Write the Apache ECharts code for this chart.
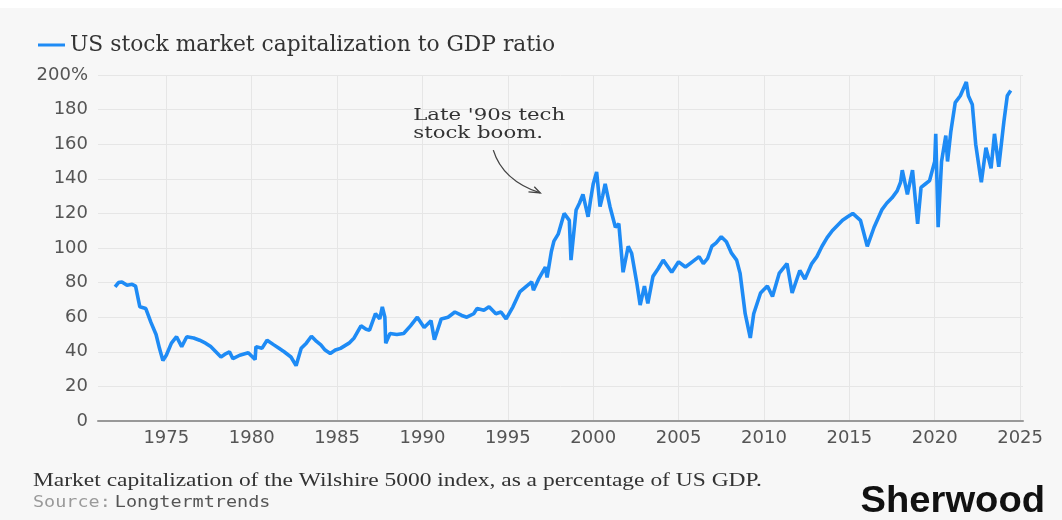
<!DOCTYPE html>
<html><head><meta charset="utf-8">
<script src="https://cdn.jsdelivr.net/npm/echarts@6/dist/echarts.min.js"></script>
<style>html,body{margin:0;padding:0;background:#fff}#c{width:1062px;height:520px}</style>
</head><body><div id="c"></div><script>
const seriesName = 'US stock market capitalization to GDP ratio';
const xTickYears = [1975, 1980, 1985, 1990, 1995, 2000, 2005, 2010, 2015, 2020, 2025];
const yMax = 200;
const yStep = 20;
const footnote = 'Market capitalization of the Wilshire 5000 index, as a percentage of US GDP.';
const sourceLabel = 'Source:';
const sourceName = 'Longtermtrends';
const brand = 'Sherwood';
const annotationText = "Late '90s tech\nstock boom.";

// [year, % of GDP]
const ratio1970s = [[1972.0,77.5],[1972.2,80],[1972.4,80.4],[1972.7,78.5],[1973.0,79],[1973.2,78],[1973.45,66],[1973.8,65],[1974.1,57],[1974.4,50],[1974.6,42],[1974.8,35],[1975.0,38],[1975.3,45],[1975.6,48.7],[1975.9,43],[1976.2,48.7],[1976.6,48],[1976.95,46.7],[1977.3,45],[1977.6,43],[1977.9,40],[1978.2,37],[1978.5,39],[1978.7,40],[1978.9,36],[1979.3,38],[1979.8,39.4]];
const ratio1980s = [[1980.2,35.5],[1980.25,43],[1980.6,42],[1980.9,46.7],[1981.3,44],[1981.6,42],[1981.9,40],[1982.3,37],[1982.6,32],[1982.9,42],[1983.2,45],[1983.5,49],[1983.8,46],[1984.05,44],[1984.3,41],[1984.6,39],[1984.9,41],[1985.2,42],[1985.7,45],[1986.0,48],[1986.4,55],[1986.7,53],[1986.9,52.5],[1987.25,62],[1987.5,59],[1987.65,66],[1987.8,60],[1987.85,45],[1988.1,50.6],[1988.5,50],[1988.9,50.6],[1989.3,55],[1989.7,60]];
const ratio1990s = [[1990.1,54],[1990.5,58],[1990.7,47],[1991.1,59],[1991.5,60],[1991.9,63],[1992.3,61],[1992.6,60],[1993.0,62],[1993.2,65],[1993.6,64],[1993.9,66],[1994.3,62],[1994.6,63],[1994.9,59],[1995.3,66],[1995.7,74.6],[1996.1,78],[1996.4,80.4],[1996.5,75.6],[1996.8,82],[1997.2,89],[1997.3,83],[1997.55,98],[1997.7,104],[1997.95,108],[1998.3,120],[1998.6,116],[1998.7,93],[1999.0,122],[1999.2,126],[1999.4,131],[1999.7,118],[1999.85,128]];
const ratio2000s = [[2000.0,137],[2000.2,144],[2000.4,124],[2000.55,130],[2000.7,137],[2000.98,124],[2001.3,112],[2001.5,114],[2001.75,86],[2002.05,101],[2002.25,97],[2002.55,80],[2002.75,67],[2003.0,78],[2003.2,68],[2003.5,83.6],[2003.8,88],[2004.1,93],[2004.6,86],[2005.0,92],[2005.4,89],[2005.8,92],[2006.2,95],[2006.45,91],[2006.7,94],[2006.95,101],[2007.2,103],[2007.5,106.5],[2007.8,103.6],[2008.1,97],[2008.4,93],[2008.6,85.5],[2008.9,62],[2009.2,48],[2009.4,62],[2009.8,74]];
const ratio2010s = [[2010.2,78],[2010.5,72],[2010.9,85.5],[2011.35,91],[2011.65,74],[2012.1,87],[2012.4,82],[2012.8,91],[2013.1,95],[2013.4,101],[2013.7,106],[2014.0,110],[2014.3,113],[2014.6,116],[2014.9,118],[2015.2,120],[2015.65,116],[2016.05,101],[2016.45,112],[2016.9,122],[2017.2,126],[2017.5,129],[2017.8,133],[2018.0,138],[2018.1,145],[2018.4,131],[2018.7,145],[2019.0,114],[2019.2,135],[2019.45,137],[2019.7,139]];
const ratio2020s = [[2020.0,150],[2020.06,166],[2020.2,112],[2020.4,150],[2020.65,165],[2020.75,150],[2020.94,167],[2021.2,184],[2021.5,188],[2021.85,196],[2021.97,188],[2022.2,183],[2022.4,160],[2022.65,143],[2022.73,138],[2023.0,158],[2023.3,146],[2023.5,166],[2023.75,147],[2024.05,173],[2024.25,188],[2024.45,191]];

// annotation anchors in data units [year, value]
const annoTextAnchor = [1989.46, 182];
const arrowStart = [1994.15, 156.6];
const arrowCtrl = [1994.7, 139];
const arrowEnd = [1996.9, 131.8];
const arrowWingA = [1996.21, 132.5];
const arrowWingB = [1996.55, 135.4];

const data = [].concat(ratio1970s, ratio1980s, ratio1990s, ratio2000s, ratio2010s, ratio2020s);
const lineColor = '#1e8bf5';
const gridColor = '#e6e6e6';

const chart = echarts.init(document.getElementById('c'));
chart.setOption({
  animation: false,
  backgroundColor: '#f7f7f7',
  grid: { left: 98, right: 39, top: 75, bottom: 99 },
  legend: {
    left: 33, top: 29, icon: 'rect', itemWidth: 27, itemHeight: 3, itemGap: 4,
    data: [seriesName],
    textStyle: { fontFamily: 'DejaVu Serif', fontSize: 21.8, color: '#333' }
  },
  xAxis: {
    type: 'value', min: 1971, max: 2025.17,
    axisLine: { show: true, onZero: false, lineStyle: { color: '#999', width: 2 } },
    axisTick: { show: false, customValues: xTickYears },
    axisLabel: { customValues: xTickYears, formatter: v => String(v), margin: 8,
      fontFamily: 'DejaVu Sans', fontSize: 18, color: '#555' },
    splitLine: { show: true, lineStyle: { color: gridColor, width: 1 } }
  },
  yAxis: {
    type: 'value', min: 0, max: yMax, interval: yStep,
    axisLine: { show: false }, axisTick: { show: false },
    axisLabel: { formatter: v => v === yMax ? v + '%' : String(v), margin: 10,
      fontFamily: 'DejaVu Sans', fontSize: 18, color: '#555' },
    splitLine: { show: true, lineStyle: { color: gridColor, width: 1 } }
  },
  series: [{
    name: seriesName, type: 'line', data: data, showSymbol: false, z: 3,
    lineStyle: { color: lineColor, width: 3.6 }, itemStyle: { color: lineColor }
  }]
});

const P = p => chart.convertToPixel({ gridIndex: 0 }, p);
const tA = P(annoTextAnchor), s = P(arrowStart), c = P(arrowCtrl), e = P(arrowEnd), wa = P(arrowWingA), wb = P(arrowWingB);
chart.setOption({
  graphic: [
    { type: 'rect', left: 0, top: 0, shape: { width: 1062, height: 8 }, style: { fill: '#fff' }, silent: true },
    { type: 'text', x: tA[0], y: tA[1], scaleX: 1.25, style: { text: annotationText, fontFamily: 'DejaVu Serif', fontSize: 17, lineHeight: 18.5, fill: '#333', textVerticalAlign: 'top' } },
    { type: 'bezierCurve', shape: { x1: s[0], y1: s[1], cpx1: c[0], cpy1: c[1], x2: e[0], y2: e[1] }, style: { stroke: '#444', lineWidth: 1.3, fill: null } },
    { type: 'polyline', shape: { points: [wa, e, wb] }, style: { stroke: '#444', lineWidth: 1.3, fill: null } },
    { type: 'text', x: 33, y: 481, scaleX: 1.235, style: { text: footnote, fontFamily: 'Liberation Serif', fontSize: 19, fill: '#333', textVerticalAlign: 'middle' } },
    { type: 'text', x: 33, y: 503, scaleX: 1.23, style: { text: '{a|' + sourceLabel + '} {b|' + sourceName + '}', textVerticalAlign: 'middle',
      rich: { a: { fontFamily: 'DejaVu Sans Mono', fontSize: 15, fill: '#9a9a9a' }, b: { fontFamily: 'DejaVu Sans Mono', fontSize: 15, fill: '#555' } } } },
    { type: 'text', x: 1045, y: 502, scaleX: 1.06, style: { text: brand, fontFamily: 'Liberation Sans', fontWeight: 'bold', fontSize: 36, fill: '#111', textAlign: 'right', textVerticalAlign: 'middle' } }
  ]
});
</script></body></html>
